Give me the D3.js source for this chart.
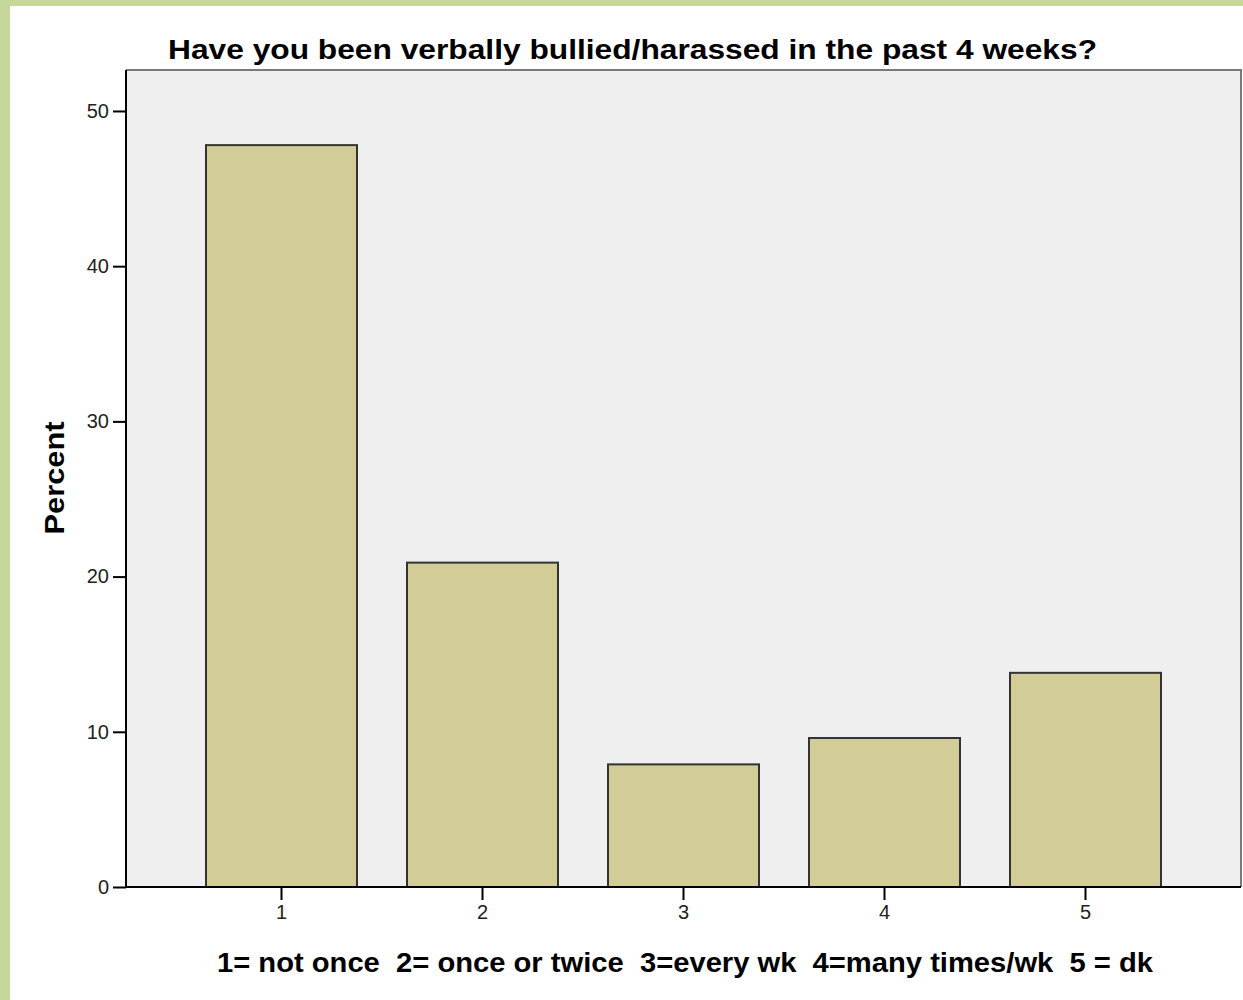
<!DOCTYPE html>
<html>
<head>
<meta charset="utf-8">
<script src="https://cdn.jsdelivr.net/npm/d3@7"></script>
<style>
  html, body { margin: 0; padding: 0; background: #c6d79c; }
  svg { display: block; }
</style>
</head>
<body>
<script>
const categories = ["1", "2", "3", "4", "5"];
const percents = [47.8, 20.9, 7.9, 9.6, 13.8];
const yTicks = [0, 10, 20, 30, 40, 50];
const titleText = "Have you been verbally bullied/harassed in the past 4 weeks?";
const xAxisTitle = "1= not once  2= once or twice  3=every wk  4=many times/wk  5 = dk";
const yAxisTitle = "Percent";

const W = 1243, H = 1000;
const svg = d3.select("body").append("svg").attr("width", W).attr("height", H);

// white panel
svg.append("rect").attr("x", 10).attr("y", 6).attr("width", W - 10).attr("height", H - 6).attr("fill", "#ffffff");

const pLeft = 126, pRight = 1241, pTop = 70, pBottom = 887;

const x = d3.scaleBand().domain(categories).range([pLeft, pRight])
  .paddingInner(50 / 201).paddingOuter(0.398);
const y = d3.scaleLinear().domain([0, 52.64]).range([pBottom, pTop]);

// plot background
svg.append("rect").attr("x", pLeft).attr("y", pTop).attr("width", pRight - pLeft).attr("height", pBottom - pTop)
  .attr("fill", "#efefef");

// frame top/right
svg.append("path").attr("d", `M${pLeft},${pTop}H${pRight}V${pBottom}`)
  .attr("fill", "none").attr("stroke", "#7a7a7a").attr("stroke-width", 2);

// bars
svg.append("g").selectAll("rect").data(categories).join("rect")
  .attr("x", d => x(d))
  .attr("y", (d, i) => y(percents[i]))
  .attr("width", x.bandwidth())
  .attr("height", (d, i) => y(0) - y(percents[i]))
  .attr("fill", "#d2cd96")
  .attr("stroke", "#333333")
  .attr("stroke-width", 2);

const font = "'Liberation Sans', Arial, sans-serif";

// y axis
const yAxis = d3.axisLeft(y).tickValues(yTicks).tickSize(13).tickPadding(4).tickFormat(d3.format("d"));
const gy = svg.append("g").attr("transform", `translate(${pLeft},0)`).call(yAxis);
gy.select(".domain").attr("stroke", "#000").attr("stroke-width", 2).attr("d", `M0,${pBottom}V${pTop}`);
gy.selectAll(".tick line").attr("stroke", "#000").attr("stroke-width", 2);
gy.selectAll(".tick text").attr("fill", "#222").style("font-family", font).style("font-size", "20px");

// x axis
const xAxis = d3.axisBottom(x).tickSize(13).tickPadding(5);
const gx = svg.append("g").attr("transform", `translate(0,${pBottom})`).call(xAxis);
gx.select(".domain").attr("stroke", "#000").attr("stroke-width", 2).attr("d", `M${pLeft},0H${pRight}`);
gx.selectAll(".tick line").attr("stroke", "#000").attr("stroke-width", 2);
gx.selectAll(".tick text").attr("fill", "#222").style("font-family", font).style("font-size", "20px");

// title
svg.append("text").attr("x", 168).attr("y", 59)
  .attr("textLength", 929).attr("lengthAdjust", "spacingAndGlyphs")
  .style("font-family", font).style("font-weight", "bold").style("font-size", "28px")
  .attr("fill", "#000").text(titleText);

// x title
svg.append("text").attr("x", 217).attr("y", 972).attr("xml:space", "preserve").style("white-space", "pre")
  .attr("textLength", 936).attr("lengthAdjust", "spacingAndGlyphs")
  .style("font-family", font).style("font-weight", "bold").style("font-size", "27px")
  .attr("fill", "#000").text(xAxisTitle);

// y title
svg.append("text").attr("transform", "translate(64,478) rotate(-90)").attr("text-anchor", "middle")
  .attr("textLength", 113).attr("lengthAdjust", "spacingAndGlyphs")
  .style("font-family", font).style("font-weight", "bold").style("font-size", "28px")
  .attr("fill", "#000").text(yAxisTitle);
</script>
</body>
</html>
